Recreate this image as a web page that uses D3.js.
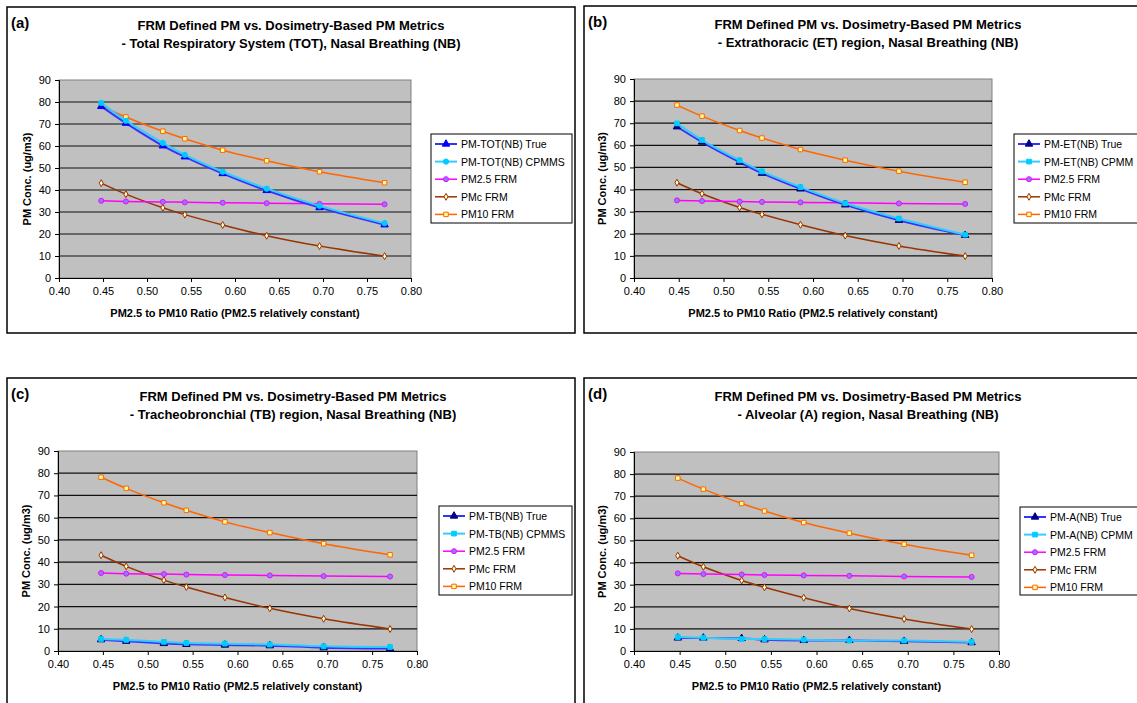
<!DOCTYPE html>
<html>
<head>
<meta charset="utf-8">
<script src="https://cdn.jsdelivr.net/npm/d3@7"></script>
<style>
  body { margin: 0; background: #fff; }
  svg { display: block; font-family: "Liberation Sans", Arial, sans-serif; }
</style>
</head>
<body>
<svg width="1137" height="703"></svg>
<script>
// x values: PM2.5 to PM10 ratio
const ratio = [0.448, 0.476, 0.518, 0.543, 0.586, 0.636, 0.696, 0.770];

// FRM series (same in every panel)
const pm25Frm = [35.1, 34.8, 34.6, 34.4, 34.2, 34.0, 33.7, 33.5];
const pmcFrm  = [43.1, 38.1, 31.9, 28.8, 24.1, 19.2, 14.5, 9.9];
const pm10Frm = [78.2, 73.2, 66.7, 63.3, 58.1, 53.3, 48.3, 43.3];

// dosimetry based series
const totTrue  = [78.0, 70.4, 60.1, 55.1, 47.5, 39.8, 32.0, 24.2];
const totCpmms = [79.6, 71.5, 61.4, 56.0, 48.3, 40.6, 32.8, 24.9];
const etTrue   = [68.4, 61.5, 52.4, 47.4, 40.3, 33.1, 26.1, 19.3];
const etCpmm   = [69.9, 62.4, 53.2, 48.2, 41.1, 33.8, 26.9, 19.6];
const tbTrue   = [5.1, 4.4, 3.4, 3.0, 2.7, 2.4, 1.5, 1.1];
const tbCpmms  = [5.4, 5.0, 4.1, 3.6, 3.3, 2.9, 2.1, 1.8];
const aTrue    = [5.9, 5.9, 5.7, 5.1, 4.8, 4.8, 4.4, 3.8];
const aCpmm    = [6.3, 6.0, 5.4, 5.4, 5.1, 4.7, 4.7, 4.1];

const xTicks = [0.40, 0.45, 0.50, 0.55, 0.60, 0.65, 0.70, 0.75, 0.80];
const yTicks = [0, 10, 20, 30, 40, 50, 60, 70, 80, 90];

const titleLine1 = "FRM Defined PM vs. Dosimetry-Based PM Metrics";
const xTitle = "PM2.5 to PM10 Ratio (PM2.5 relatively constant)";
const yTitle = "PM Conc. (ug/m3)";

const panels = [
  { tag: "(a)", sub: "- Total Respiratory System (TOT), Nasal Breathing (NB)",
    names: ["PM-TOT(NB) True", "PM-TOT(NB) CPMMS"], dosi: [totTrue, totCpmms], cpShape: "circle", trueFill: "#0000ff",
    box: {x: 7, y: 7, w: 568, h: 326}, plot: {l: 59, r: 411, t: 80, b: 278}, tx: 291,
    leg: {x: 431, y: 134, w: 141, h: 89} },
  { tag: "(b)", sub: "- Extrathoracic (ET) region, Nasal Breathing (NB)",
    names: ["PM-ET(NB) True", "PM-ET(NB) CPMM"], dosi: [etTrue, etCpmm], cpShape: "square", trueFill: "#000080",
    box: {x: 584, y: 6, w: 620, h: 327}, plot: {l: 634, r: 992, t: 79, b: 278}, tx: 868,
    leg: {x: 1014, y: 134, w: 150, h: 89} },
  { tag: "(c)", sub: "- Tracheobronchial (TB) region, Nasal Breathing (NB)",
    names: ["PM-TB(NB) True", "PM-TB(NB) CPMMS"], dosi: [tbTrue, tbCpmms], cpShape: "square", trueFill: "#000080",
    box: {x: 7, y: 378, w: 568, h: 360}, plot: {l: 58, r: 417, t: 451, b: 651}, tx: 293,
    leg: {x: 439, y: 506, w: 133, h: 89} },
  { tag: "(d)", sub: "- Alveolar (A) region, Nasal Breathing (NB)",
    names: ["PM-A(NB) True", "PM-A(NB) CPMM"], dosi: [aTrue, aCpmm], cpShape: "square", trueFill: "#000080",
    box: {x: 584, y: 378, w: 620, h: 360}, plot: {l: 634, r: 999, t: 452, b: 651}, tx: 868,
    leg: {x: 1020, y: 507, w: 150, h: 88} }
];

const symbolType = {
  triangle: d3.symbolTriangle, circle: d3.symbolCircle,
  square: d3.symbolSquare, diamond: d3.symbolDiamond
};

const svg = d3.select("svg");

panels.forEach(p => {
  const g = svg.append("g");

  // panel frame
  g.append("rect")
    .attr("x", p.box.x).attr("y", p.box.y)
    .attr("width", p.box.w).attr("height", p.box.h)
    .attr("fill", "#fff").attr("stroke", "#000").attr("stroke-width", 1.5);

  g.append("text")
    .attr("x", p.box.x + 4).attr("y", p.box.y + 21)
    .attr("font-size", 15).attr("font-weight", "bold")
    .text(p.tag);

  // titles
  g.append("text")
    .attr("x", p.tx).attr("y", p.box.y + 23)
    .attr("text-anchor", "middle").attr("font-size", 13).attr("font-weight", "bold")
    .text(titleLine1);
  g.append("text")
    .attr("x", p.tx).attr("y", p.box.y + 41)
    .attr("text-anchor", "middle").attr("font-size", 13).attr("font-weight", "bold")
    .text(p.sub);

  const x = d3.scaleLinear().domain([0.40, 0.80]).range([p.plot.l, p.plot.r]);
  const y = d3.scaleLinear().domain([0, 90]).range([p.plot.b, p.plot.t]);

  // plot area
  g.append("rect")
    .attr("x", p.plot.l).attr("y", p.plot.t)
    .attr("width", p.plot.r - p.plot.l).attr("height", p.plot.b - p.plot.t)
    .attr("fill", "#c0c0c0").attr("stroke", "#808080");

  // gridlines
  g.append("g").selectAll("line")
    .data(yTicks.filter(d => d > 0 && d < 90))
    .join("line")
      .attr("x1", p.plot.l).attr("x2", p.plot.r)
      .attr("y1", d => y(d)).attr("y2", d => y(d))
      .attr("stroke", "#111").attr("stroke-width", 1.2);

  // axes
  const xAxis = g.append("g")
    .attr("transform", `translate(0,${p.plot.b})`)
    .call(d3.axisBottom(x).tickValues(xTicks).tickFormat(d3.format(".2f")).tickSize(4).tickPadding(5));
  const yAxis = g.append("g")
    .attr("transform", `translate(${p.plot.l},0)`)
    .call(d3.axisLeft(y).tickValues(yTicks).tickSize(4).tickPadding(4));
  [xAxis, yAxis].forEach(a => {
    a.select(".domain").attr("stroke", "#000");
    a.selectAll("line").attr("stroke", "#000");
    a.selectAll("text").attr("font-size", 11).attr("fill", "#000")
      .attr("font-family", "'Liberation Sans', Arial, sans-serif");
  });

  g.append("text")
    .attr("x", (p.plot.l + p.plot.r) / 2).attr("y", p.plot.b + 39)
    .attr("text-anchor", "middle").attr("font-size", 11).attr("font-weight", "bold")
    .text(xTitle);
  g.append("text")
    .attr("transform", `translate(${p.plot.l - 28},${(p.plot.t + p.plot.b) / 2}) rotate(-90)`)
    .attr("text-anchor", "middle").attr("font-size", 11).attr("font-weight", "bold")
    .text(yTitle);

  const series = [
    { name: p.names[0], values: p.dosi[0], line: "#3333ff", width: 2, shape: "triangle", size: 24, fill: p.trueFill, stroke: p.trueFill },
    { name: p.names[1], values: p.dosi[1], line: "#33ccff", width: 2, shape: p.cpShape, size: 22, fill: "#00ccff", stroke: "#00ccff" },
    { name: "PM2.5 FRM", values: pm25Frm, line: "#ff00ff", width: 1.5, shape: "circle", size: 20, fill: "#8080ff", stroke: "#ff00ff" },
    { name: "PMc FRM", values: pmcFrm, line: "#993300", width: 1.5, shape: "diamond", size: 14, fill: "#ffffcc", stroke: "#993300" },
    { name: "PM10 FRM", values: pm10Frm, line: "#ff6600", width: 1.5, shape: "square", size: 20, fill: "#ffff99", stroke: "#ff6600" }
  ];

  const line = d3.line()
    .x((d, i) => x(ratio[i]))
    .y(d => y(d))
    .curve(d3.curveCatmullRom.alpha(0.5));

  // draw FRM lines first, dosimetry on top like the original
  const order = [4, 3, 2, 0, 1];
  order.forEach(k => {
    const s = series[k];
    const sg = g.append("g");
    sg.append("path")
      .attr("d", line(s.values))
      .attr("fill", "none").attr("stroke", s.line).attr("stroke-width", s.width);
    sg.selectAll("path.m")
      .data(s.values)
      .join("path")
        .attr("class", "m")
        .attr("transform", (d, i) => `translate(${x(ratio[i])},${y(d)})`)
        .attr("d", d3.symbol().type(symbolType[s.shape]).size(s.size))
        .attr("fill", s.fill).attr("stroke", s.stroke).attr("stroke-width", 1);
  });

  // legend
  const lg = g.append("g");
  lg.append("rect")
    .attr("x", p.leg.x).attr("y", p.leg.y)
    .attr("width", p.leg.w).attr("height", p.leg.h)
    .attr("fill", "#fff").attr("stroke", "#000");
  series.forEach((s, i) => {
    const ly = p.leg.y + 10 + i * 17.6;
    lg.append("line")
      .attr("x1", p.leg.x + 4).attr("x2", p.leg.x + 26)
      .attr("y1", ly).attr("y2", ly)
      .attr("stroke", s.line).attr("stroke-width", s.width);
    lg.append("path")
      .attr("transform", `translate(${p.leg.x + 15},${ly})`)
      .attr("d", d3.symbol().type(symbolType[s.shape]).size(s.size))
      .attr("fill", s.fill).attr("stroke", s.stroke);
    lg.append("text")
      .attr("x", p.leg.x + 30).attr("y", ly + 4)
      .attr("font-size", 10.5)
      .text(s.name);
  });
});
</script>
</body>
</html>
